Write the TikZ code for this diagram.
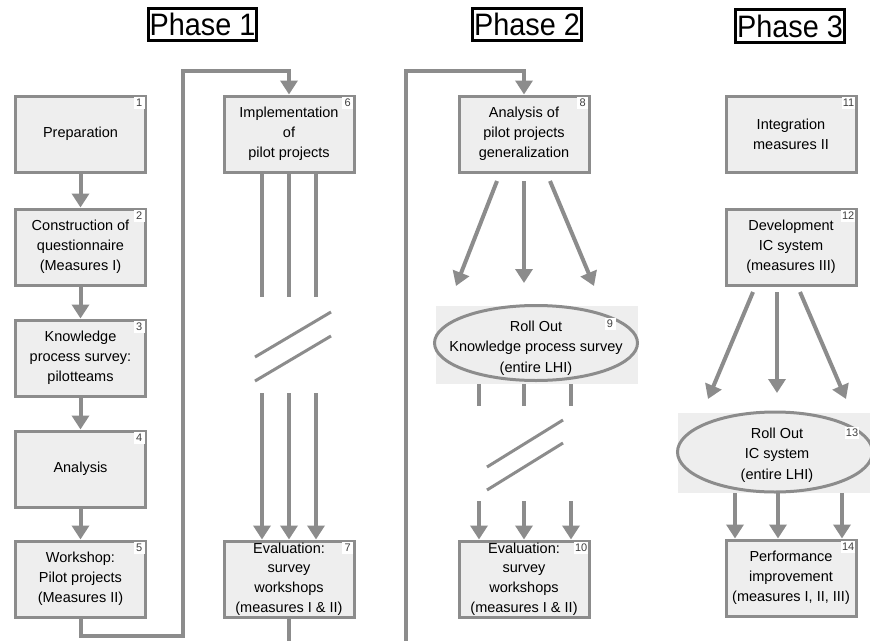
\documentclass[tikz,border=0pt]{standalone}
\usepackage{fontspec}
\setmainfont{Liberation Sans}
\usetikzlibrary{arrows.meta,shapes.geometric}
\definecolor{lc}{HTML}{8C8C8C}
\definecolor{bf}{HTML}{EEEEEE}
\tikzset{
  box/.style={draw=lc, line width=3pt, fill=bf, minimum width=130pt, minimum height=76pt, align=center, inner sep=1pt, font=\fontsize{14.5}{19.8}\selectfont},
  numst/.style={fill=white, inner sep=1pt, minimum width=11pt, minimum height=12pt, font=\fontsize{11}{12}\selectfont, text=black!75},
  ln/.style={draw=lc, line width=4pt},
  arr/.style={ln, -{Triangle[width=17pt,length=14pt]}},
  phase/.style={draw=black, line width=3pt, fill=white, inner xsep=1.5pt, inner ysep=5pt, font=\fontsize{31}{32}\selectfont},
  back/.style={fill=bf, minimum width=202pt, minimum height=78pt, inner sep=0pt},
  ell/.style={ellipse, draw=lc, line width=3pt, fill=bf, inner sep=0pt},
  etxt/.style={align=center, inner sep=0pt, font=\fontsize{14.5}{20.5}\selectfont},
  brk/.style={draw=lc, line width=3pt}
}
\begin{document}
\begin{tikzpicture}[x=1pt,y=-1pt]
\useasboundingbox (0,0) rectangle (870,640);
% phase labels
\node[phase] (ph1) at (202.5,24.5) {\scalebox{0.93}[1]{Phase 1}};
\node[phase] (ph2) at (527,24.5) {\scalebox{0.93}[1]{Phase 2}};
\node[phase] (ph3) at (790,26) {\scalebox{0.93}[1]{Phase 3}};
% column 1
\node[box] (b1) at (80.5,134) {Preparation};
\node[box] (b2) at (80.5,247) {Construction of\\questionnaire\\(Measures I)};
\node[box] (b3) at (80.5,358) {Knowledge\\process survey:\\pilotteams};
\node[box] (b4) at (80.5,469) {Analysis};
\node[box] (b5) at (80.5,579) {Workshop:\\Pilot projects\\(Measures II)};
\foreach \i in {1,...,5} {\node[numst, anchor=north east] (n\i) at ([shift={(-2,2)}]b\i.north east) {\i};}
\draw[arr] (b1) -- (b2);
\draw[arr] (b2) -- (b3);
\draw[arr] (b3) -- (b4);
\draw[arr] (b4) -- (b5);
% column 2
\node[box] (b6) at (289,134) {Implementation\\of\\pilot projects};
\node[box] (b7) at (289,579) {Evaluation:\\survey\\workshops\\(measures I \& II)};
\node[numst, anchor=north east] (n6) at ([shift={(-2,2)}]b6.north east) {6};
\node[numst, anchor=north east] (n7) at ([shift={(-2,2)}]b7.north east) {7};
\coordinate (L1) at (183,636);
\coordinate (L2) at (183,71);
\draw[arr] (b5.south) |- (L1) -- (L2) -| (b6.north);
\foreach \k/\xx in {a/262,b/289,c/316} {
  \coordinate (u\k) at (\xx,297);
  \coordinate (d\k) at (\xx,393);
  \draw[ln] (b6.south -| u\k) -- (u\k);
  \draw[arr] (d\k) -- (d\k |- b7.north);
}
\coordinate (s1a) at (255,357); \coordinate (s1b) at (331,312);
\coordinate (s2a) at (255,381); \coordinate (s2b) at (331,336);
\draw[brk] (s1a) -- (s1b);
\draw[brk] (s2a) -- (s2b);
\coordinate (e7) at (289,645);
\draw[ln] (b7.south) -- (e7);
% column 3
\node[box] (b8) at (524,134) {Analysis of\\pilot projects\\generalization};
\node[numst, anchor=north east] (n8) at ([shift={(-2,2)}]b8.north east) {8};
\coordinate (P2a) at (406,645);
\coordinate (P2b) at (406,71);
\draw[arr] (P2a) -- (P2b) -| (b8.north);
\node[back] (r9) at (537,345) {};
\node[ell, minimum width=203pt, minimum height=75pt] (e9) at (536,343) {};
\node[etxt] (t9) at (536,348) {Roll Out\\Knowledge process survey\\(entire LHI)};
\node[numst] (n9) at (610,324) {9};
\coordinate (t8a) at (497,181); \coordinate (h8a) at (456,286);
\coordinate (t8b) at (524,181); \coordinate (h8b) at (524,283);
\coordinate (t8c) at (550,181); \coordinate (h8c) at (594,286);
\draw[arr] (t8a) -- (h8a);
\draw[arr] (t8b) -- (h8b);
\draw[arr] (t8c) -- (h8c);
\node[box] (b10) at (524,579) {Evaluation:\\survey\\workshops\\(measures I \& II)};
\node[numst, anchor=north east] (n10) at ([shift={(-2,2)}]b10.north east) {10};
\foreach \k/\xx in {a/479,b/524,c/571} {
  \coordinate (v\k) at (\xx,406);
  \coordinate (w\k) at (\xx,501);
  \draw[ln] (r9.south -| v\k) -- (v\k);
  \draw[arr] (w\k) -- (w\k |- b10.north);
}
\coordinate (q1a) at (487,467); \coordinate (q1b) at (563,420);
\coordinate (q2a) at (487,490); \coordinate (q2b) at (563,443);
\draw[brk] (q1a) -- (q1b);
\draw[brk] (q2a) -- (q2b);
% column 4
\node[box] (b11) at (791,134) {Integration\\measures II};
\node[box] (b12) at (791,247) {Development\\IC system\\(measures III)};
\node[numst, anchor=north east] (n11) at ([shift={(-2,2)}]b11.north east) {11};
\node[numst, anchor=north east] (n12) at ([shift={(-2,2)}]b12.north east) {12};
\node[back, minimum width=197pt, minimum height=80pt] (r13) at (776.5,453) {};
\node[ell, minimum width=195pt, minimum height=80pt] (e13) at (775,452) {};
\node[etxt] (t13) at (777,455) {Roll Out\\IC system\\(entire LHI)};
\node[numst] (n13) at (852,433) {13};
\coordinate (t12a) at (753,292); \coordinate (h12a) at (708,399);
\coordinate (t12b) at (777,292); \coordinate (h12b) at (777,393);
\coordinate (t12c) at (800,292); \coordinate (h12c) at (846,399);
\draw[arr] (t12a) -- (h12a);
\draw[arr] (t12b) -- (h12b);
\draw[arr] (t12c) -- (h12c);
\node[box] (b14) at (791,578) {Performance\\improvement\\(measures I, II, III)};
\node[numst, anchor=north east] (n14) at ([shift={(-2,2)}]b14.north east) {14};
\foreach \xx in {735,778,842} {
  \draw[arr] (r13.south -| \xx,0) -- (b14.north -| \xx,0);
}
\end{tikzpicture}
\end{document}
